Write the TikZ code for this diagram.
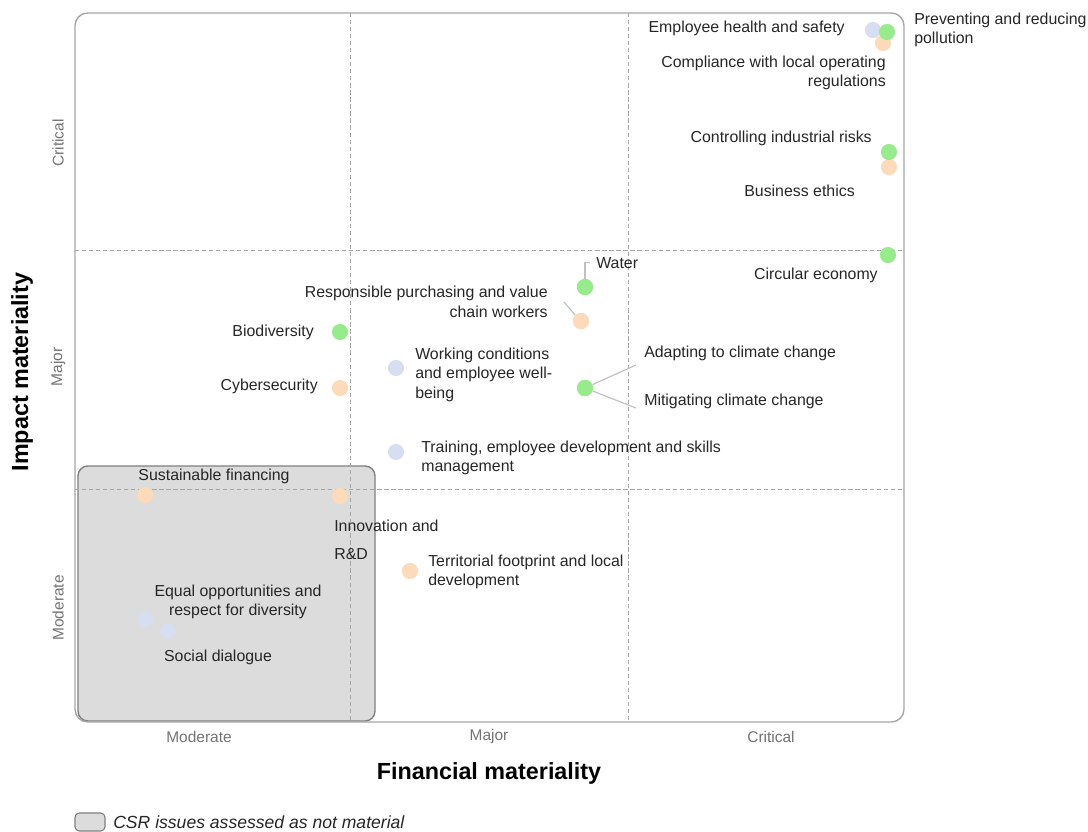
\documentclass[tikz,border=0pt]{standalone}
\usepackage{fontspec}
\setmainfont{Liberation Sans}
\usepackage{xcolor}

\definecolor{dotgreen}{RGB}{152,235,140}
\definecolor{dotorange}{RGB}{253,218,186}
\definecolor{dotblue}{RGB}{216,222,242}
\definecolor{boxgrey}{RGB}{220,220,220}

\begin{document}
\begin{tikzpicture}[x=0.025cm, y=-0.025cm,
    lbl/.style={inner sep=0pt, yshift=-1.2pt, font=\fontsize{11.3}{13.8}\selectfont, text=black!85},
    tick/.style={inner sep=0pt, font=\fontsize{11}{13}\selectfont, text=black!55},
    axis/.style={inner sep=0pt, font=\fontsize{16.6}{19}\selectfont\bfseries},
    gdot/.style={circle, inner sep=0pt, minimum size=11.5pt, fill=dotgreen},
    odot/.style={circle, inner sep=0pt, minimum size=11.5pt, fill=dotorange},
    bdot/.style={circle, inner sep=0pt, minimum size=11.5pt, fill=dotblue},
    grid/.style={color=black!35, dash pattern=on 3pt off 2pt, line width=0.6pt},
    lead/.style={color=black!25, line width=0.8pt}]
    \useasboundingbox (0,0) rectangle (1088,832);

    % not material area
    \draw[fill=boxgrey, draw=black!50, line width=1pt, rounded corners=7] (78,466) rectangle (375,721);

    % draw grid
    \draw[grid] (350,13) -- (350,722);
    \draw[grid] (628,13) -- (628,722);
    \draw[grid] (75,250) -- (904,250);
    \draw[grid] (75,489) -- (904,489);
    \draw[color=black!35, line width=1pt, rounded corners=9] (75,13) rectangle (904,722);

    % axis ticks
    \node[tick, rotate=90] (tcrit) at (58,143) {Critical};
    \node[tick, rotate=90] (tmaj) at (58,367) {Major};
    \node[tick, rotate=90] (tmod) at (58,608) {Moderate};
    \node[tick] (fmod) at (199,737) {Moderate};
    \node[tick] (fmaj) at (489,737) {Major};
    \node[tick] (fcrit) at (771,737) {Critical};

    % axis titles
    \node[axis, rotate=90] (impact) at (22,372) {Impact materiality};
    \node[axis] (financial) at (489,773) {Financial materiality};

    % draw data
    \node[bdot] (health) at (873,30) {};
    \node[odot] (comply) at (883,43) {};
    \node[gdot] (pollut) at (887,32) {};
    \node[odot] (ethics) at (889,167) {};
    \node[gdot] (risks) at (889,152) {};
    \node[gdot] (circ) at (888,255) {};
    \node[gdot] (water) at (585,287) {};
    \node[odot] (purch) at (581,321) {};
    \node[gdot] (biodiv) at (340,332) {};
    \node[odot] (cyber) at (340,388) {};
    \node[bdot] (workc) at (396,368) {};
    \node[gdot] (climate) at (585,388) {};
    \node[bdot] (train) at (396,452) {};
    \node[odot] (finan) at (145,495) {};
    \node[odot] (innov) at (340,496) {};
    \node[odot] (territ) at (410,571) {};
    \node[bdot] (equal) at (145,619) {};
    \node[bdot] (social) at (168,631) {};

    % labels
    \node[lbl, anchor=east] (healthl) at (845,27) {Employee health and safety};
    \node[lbl, anchor=west, align=left] (pollutl) at (914,28) {Preventing and reducing\\pollution};
    \node[lbl, anchor=east, align=right] (complyl) at (886,71) {Compliance with local operating\\regulations};
    \node[lbl, anchor=east] (risksl) at (872,137) {Controlling industrial risks};
    \node[lbl, anchor=east] (ethicsl) at (855,189) {Business ethics};
    \node[lbl, anchor=east] (circl) at (878,274) {Circular economy};
    \node[lbl, anchor=west] (waterl) at (596,261) {Water};
    \node[lbl, anchor=east, align=right] (purchl) at (548,300) {Responsible purchasing and value\\chain workers};
    \node[lbl, anchor=east] (biodivl) at (314,331) {Biodiversity};
    \node[lbl, anchor=east] (cyberl) at (318,385) {Cybersecurity};
    \node[lbl, anchor=west, align=left] (workcl) at (415,373) {Working conditions\\and employee well-\\being};
    \node[lbl, anchor=west] (adaptl) at (644,352) {Adapting to climate change};
    \node[lbl, anchor=west] (mitigl) at (644,400) {Mitigating climate change};
    \node[lbl, anchor=west, align=left] (trainl) at (421,456) {Training, employee development and skills\\management};
    \node[lbl] (finanl) at (214,475) {Sustainable financing};
    \node[lbl, anchor=west, align=left] (innovl) at (334,538) {Innovation and\\[6pt]R\&D};
    \node[lbl, anchor=west, align=left] (territl) at (428,570) {Territorial footprint and local\\development};
    \node[lbl, align=center] (equall) at (238,600) {Equal opportunities and\\respect for diversity};
    \node[lbl] (sociall) at (218,656) {Social dialogue};

    % draw leaders
    \coordinate (purchend) at (564,302);
    \coordinate (adaptend) at (636,365);
    \coordinate (mitigend) at (636,408);
    \draw[lead] (water.north) |- ([xshift=-4]waterl.west);
    \draw[lead] (purch.north west) -- (purchend);
    \draw[lead] (climate) -- (adaptend);
    \draw[lead] (climate) -- (mitigend);
    \node[gdot] at (climate) {};
    \node[gdot] at (water) {};
    \node[odot] at (purch) {};

    % legend
    \draw[fill=boxgrey, draw=black!50, line width=0.8pt, rounded corners=3] (75,813) rectangle (105,831);
    \node[inner sep=0pt, anchor=west, font=\fontsize{12.5}{15}\selectfont\itshape, text=black!85] (legend) at (113,822) {CSR issues assessed as not material};
\end{tikzpicture}
\end{document}
